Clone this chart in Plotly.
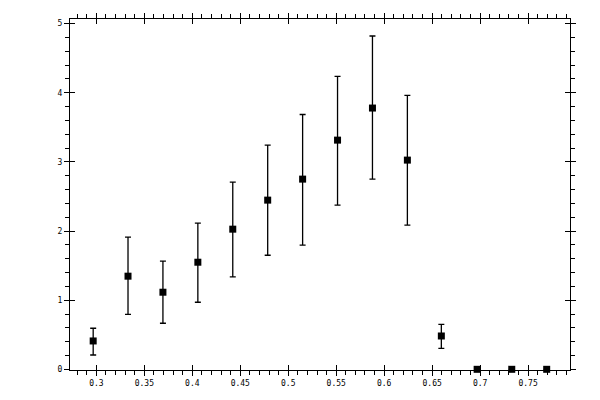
import plotly.graph_objects as go

# === Data ===
x_vals = [0.2967, 0.3330, 0.3694, 0.4058, 0.4422, 0.4786, 0.5150,
          0.5514, 0.5878, 0.6242, 0.6596, 0.6969, 0.7330, 0.7694]
y_vals = [0.41, 1.347, 1.115, 1.549, 2.027, 2.447, 2.751,
          3.315, 3.779, 3.026, 0.482, 0.0, 0.0, 0.0]
err_plus = [0.184, 0.564, 0.449, 0.565, 0.680, 0.796, 0.935,
            0.921, 1.042, 0.935, 0.169, 0.0, 0.0, 0.0]
err_minus = [0.203, 0.551, 0.449, 0.579, 0.691, 0.797, 0.956,
             0.941, 1.028, 0.941, 0.178, 0.0, 0.0, 0.0]

x_range = [0.27254, 0.7937]
y_range = [-0.01, 5.067]

fig = go.Figure()
fig.add_trace(go.Scatter(
    x=x_vals, y=y_vals,
    mode="markers",
    marker=dict(symbol="square", size=7, color="black", line=dict(width=0)),
    error_y=dict(type="data", symmetric=False, array=err_plus, arrayminus=err_minus,
                 color="black", thickness=1.3, width=3),
    cliponaxis=False,
    showlegend=False,
))
# empty trace so the overlay axes (inward half of the major ticks) get drawn
fig.add_trace(go.Scatter(x=[], y=[], xaxis="x2", yaxis="y2", showlegend=False))

font = dict(family="DejaVu Sans Mono", size=8, color="black")
common = dict(showline=True, linecolor="black", linewidth=1, mirror="ticks",
              showgrid=False, zeroline=False, tickcolor="black", tickwidth=1,
              automargin=False)

# page body adds an 8px offset, margins compensate for it
fig.update_layout(
    width=600, height=400,
    paper_bgcolor="white", plot_bgcolor="white",
    margin=dict(l=62, r=38, t=11, b=38, autoexpand=False),
    font=font,
    xaxis=dict(range=x_range, tick0=0, dtick=0.05, ticks="outside", ticklen=5,
               tickfont=font, ticklabelstandoff=0,
               minor=dict(dtick=0.01, ticks="outside", ticklen=4,
                          tickcolor="black", tickwidth=1, showgrid=False),
               **common),
    yaxis=dict(range=y_range, tick0=0, dtick=1, ticks="outside", ticklen=5,
               tickfont=font, ticklabelstandoff=0,
               minor=dict(dtick=0.2, ticks="outside", ticklen=4,
                          tickcolor="black", tickwidth=1, showgrid=False),
               **common),
    xaxis2=dict(range=x_range, overlaying="x", anchor="y2", tick0=0, dtick=0.05,
                ticks="inside", ticklen=5, showticklabels=False, **common),
    yaxis2=dict(range=y_range, overlaying="y", anchor="x2", tick0=0, dtick=1,
                ticks="inside", ticklen=5, showticklabels=False, **common),
)

fig.write_html("out.html")
